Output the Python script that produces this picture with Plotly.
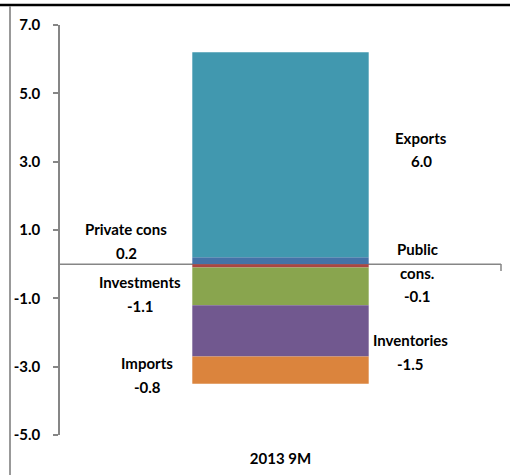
import plotly.graph_objects as go

# ---- data ----
category = ["2013 9M"]
components = ["Private cons", "Public<br>cons.", "Investments", "Inventories", "Imports", "Exports"]
values = [0.2, -0.1, -1.1, -1.5, -0.8, 6.0]
colors = ["#4572A7", "#AA4643", "#89A54E", "#71588F", "#DB843D", "#4198AF"]
y_ticks = [-5, -3, -1, 1, 3, 5, 7]
y_tick_text = ["%.1f" % v for v in y_ticks]

# ---- layout geometry (pixels) ----
W, H = 510, 475
ML, MR, MT, MB = 60, 9, 25, 40
PW, PH = W - ML - MR, H - MT - MB


def xp(px):
    return (px - ML) / PW


def yp(py):
    return (H - MB - py) / PH


# label anchor positions (center x, first line y) in pixels
label_pos = [(126, 229), (417, 249), (140, 282), (410, 340), (147, 363), (421, 138)]
LINE = 23.5

FONT = dict(family="Lato", size=15, color="black", weight="bold")

fig = go.Figure()
for name, v, c in zip(components, values, colors):
    fig.add_trace(go.Bar(x=category, y=[v], name=name.replace("<br>", " "),
                         marker=dict(color=c, line=dict(width=0)),
                         hoverinfo="skip"))

annotations = []
for name, v, (cx, cy) in zip(components, values, label_pos):
    lines = name.split("<br>") + ["%.1f" % v]
    for i, t in enumerate(lines):
        annotations.append(dict(text=t, x=xp(cx), y=yp(cy + i * LINE),
                                xref="paper", yref="paper", showarrow=False,
                                xanchor="center", yanchor="middle", font=FONT))

shapes = [
    # zero axis line
    dict(type="line", xref="paper", yref="y", x0=0, x1=1, y0=0, y1=0,
         line=dict(color="#868686", width=1.5), layer="below"),
    # small tick at right end of category axis
    dict(type="line", xref="paper", yref="paper", x0=1, x1=1,
         y0=yp(264), y1=yp(271), line=dict(color="#868686", width=1.5), layer="below"),
    # outer frame: black top line, gray left line
    dict(type="line", xref="paper", yref="paper", x0=xp(0), x1=xp(W),
         y0=yp(5), y1=yp(5), line=dict(color="black", width=2.5)),
    dict(type="line", xref="paper", yref="paper", x0=xp(10), x1=xp(10),
         y0=yp(6), y1=yp(H), line=dict(color="#999999", width=2)),
]

fig.update_layout(
    width=W, height=H, margin=dict(l=ML, r=MR, t=MT, b=MB),
    barmode="relative", bargap=0.6, showlegend=False,
    plot_bgcolor="white", paper_bgcolor="white",
    annotations=annotations, shapes=shapes,
    xaxis=dict(type="category", showline=False, ticks="", showgrid=False,
               tickfont=FONT, ticklabelstandoff=13, fixedrange=True),
    yaxis=dict(range=[-5, 7], tickvals=y_ticks, ticktext=y_tick_text,
               showline=True, linecolor="#868686", linewidth=1.5,
               ticks="outside", ticklen=5, tickcolor="#868686", tickwidth=1.5,
               showgrid=False, zeroline=False, tickfont=FONT,
               ticklabelstandoff=10, fixedrange=True),
)

fig.write_html("out.html", config={"displayModeBar": False})
